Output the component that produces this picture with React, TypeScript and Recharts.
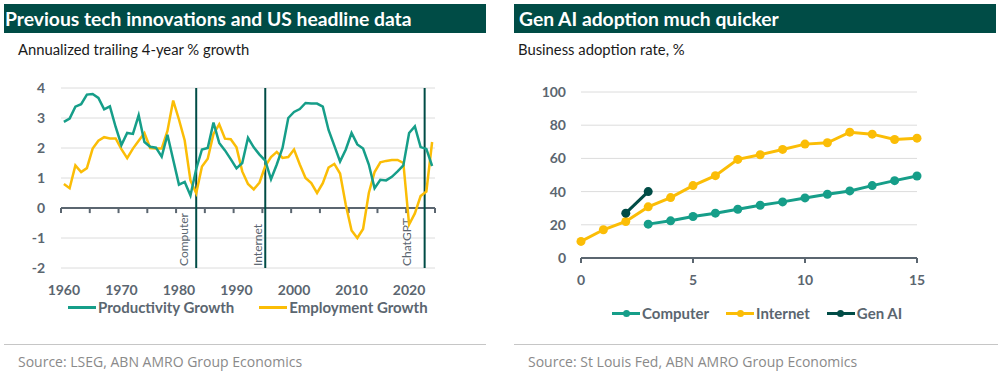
import {
  LineChart,
  Line,
  XAxis,
  YAxis,
  CartesianGrid,
  ReferenceLine,
} from "recharts";

// LEFT: annualized trailing 4-year % growth, 1960-2024
const years = Array.from({ length: 65 }, (_, i) => 1960 + i);

const productivity = [
  2.87, 2.98, 3.38, 3.46, 3.78, 3.8, 3.67, 3.29, 3.39, 2.7,
  2.1, 2.5, 2.47, 3.09, 2.2, 2.04, 2.01, 1.71, 2.44, 1.61,
  0.78, 0.87, 0.42, 1.3, 1.95, 2.0, 2.85, 2.17, 1.92, 1.63,
  1.32, 1.5, 2.34, 2.02, 1.78, 1.58, 0.96, 1.45, 2.0, 3.0,
  3.2, 3.3, 3.5, 3.48, 3.48, 3.38, 2.6, 2.08, 1.55, 1.95,
  2.5, 2.12, 1.98, 1.45, 0.66, 0.94, 0.92, 1.04, 1.22, 1.42,
  2.5, 2.72, 2.03, 1.97, 1.4,
];

const employment = [
  0.8, 0.66, 1.42, 1.2, 1.33, 1.98, 2.24, 2.36, 2.32, 2.32,
  1.96, 1.66, 1.98, 2.24, 2.5, 2.0, 1.98, 1.98, 2.57, 3.58,
  2.95, 2.25, 0.92, 0.49, 1.38, 1.64, 2.47, 2.79, 2.31, 2.29,
  2.02, 1.22, 0.8, 0.62, 0.85, 1.4, 1.7, 1.87, 1.67, 1.7,
  1.95, 1.45, 1.0, 0.83, 0.5, 0.83, 1.35, 1.47, 1.15, 0.1,
  -0.75, -1.0, -0.7, 0.5, 1.2, 1.52, 1.57, 1.6, 1.6, 1.5,
  -0.55, -0.18, 0.4, 0.55, 2.2,
];

const yearLabels = [1960, 1970, 1980, 1990, 2000, 2010, 2020];
const yearBoundaries = [
  1959.5, 1964.5, 1969.5, 1974.5, 1979.5, 1984.5, 1989.5,
  1994.5, 1999.5, 2004.5, 2009.5, 2014.5, 2019.5, 2024.5,
];
const growthTicks = [-2, -1, 0, 1, 2, 3, 4];

const eventNames = ["Computer", "Internet", "ChatGPT"];
const eventYears = [1983, 1995, 2022.7];

// RIGHT: business adoption rate, %
const adoptionYears = [0, 1, 2, 3, 4, 5, 6, 7, 8, 9, 10, 11, 12, 13, 14, 15];
const computer = [null, null, null, 20.4, 22.4, 25, 27, 29.4, 31.8, 33.8, 36.2, 38.4, 40.4, 43.6, 46.6, 49.4];
const internet = [10, 17, 22, 30.8, 36.4, 43.6, 49.6, 59.4, 62.2, 65.4, 68.6, 69.4, 75.8, 74.6, 71.4, 72.2];
const genAI = [null, null, 27, 40, null, null, null, null, null, null, null, null, null, null, null, null];
const adoptionXTicks = [0, 5, 10, 15];
const adoptionYTicks = [0, 20, 40, 60, 80, 100];

const GREEN = "#169e89";
const YELLOW = "#fbbd06";
const DARK = "#004c46";
const AXIS = "#5b6670";
const GRID = "#dcdcdc";
const FONT = "Lato, 'Open Sans', sans-serif";

const growthData = years.map((year, i) => ({
  year,
  productivity: productivity[i],
  employment: employment[i],
}));

const adoptionData = adoptionYears.map((x, i) => ({
  x,
  computer: computer[i],
  internet: internet[i],
  genAI: genAI[i],
}));

// label offsets (px) from each event line, left side
const labelDx: Record<string, number> = { Computer: -8.5, Internet: -3.5, ChatGPT: -13.5 };

function EventLabel(props: any) {
  const { viewBox, text } = props;
  const x = viewBox.x + (labelDx[text] || -6);
  const y = viewBox.y + viewBox.height - 2;
  return (
    <text
      x={x}
      y={y}
      transform={`rotate(-90 ${x} ${y})`}
      fill={AXIS}
      fontSize={12}
      fontFamily={FONT}
      textAnchor="start"
    >
      {text}
    </text>
  );
}

const tickStyle = { fill: AXIS, fontSize: 14, fontWeight: 700, fontFamily: FONT };

function Header({ left, width, pad, text }: any) {
  return (
    <div
      style={{
        position: "absolute",
        left,
        top: 4,
        width,
        height: 29,
        lineHeight: "29px",
        background: DARK,
        color: "#fff",
        fontFamily: FONT,
        fontWeight: 700,
        fontSize: 19.3,
        paddingLeft: pad,
        boxSizing: "border-box",
        whiteSpace: "nowrap",
      }}
    >
      {text}
    </div>
  );
}

function LegendItem({ color, label, dot }: any) {
  return (
    <div style={{ display: "flex", alignItems: "center" }}>
      <div style={{ position: "relative", width: 28, height: 3, background: color, marginRight: 2 }}>
        {dot && (
          <div
            style={{
              position: "absolute",
              left: 10.5,
              top: -2,
              width: 7,
              height: 7,
              borderRadius: "50%",
              background: color,
            }}
          />
        )}
      </div>
      <span style={{ color: AXIS, fontWeight: 700, fontSize: 15, lineHeight: "15px", fontFamily: FONT }}>
        {label}
      </span>
    </div>
  );
}

const textBase = { position: "absolute" as const, whiteSpace: "nowrap" as const };
const subStyle = { fontFamily: FONT, fontSize: 14.8, lineHeight: "14.8px", color: "#1a1a1a" };
const sourceStyle = { fontFamily: "'Open Sans', sans-serif", fontSize: 14, lineHeight: "14px", color: "#8a8a8a" };

export default function App() {
  return (
    <div
      style={{
        position: "absolute",
        left: 0,
        top: 0,
        width: 998,
        height: 375,
        background: "#fff",
        overflow: "hidden",
      }}
    >
      {/* LEFT PANEL */}
      <Header left={4} width={482} pad={1} text="Previous tech innovations and US headline data" />
      <div style={{ ...textBase, ...subStyle, left: 18, top: 42 }}>
        Annualized trailing 4-year % growth
      </div>

      <div style={{ position: "absolute", left: 0, top: 0 }}>
        <LineChart
          width={490}
          height={300}
          data={growthData}
          margin={{ top: 88, right: 55, bottom: 2, left: 0 }}
        >
          <CartesianGrid vertical={false} stroke={GRID} />
          <XAxis
            dataKey="year"
            type="number"
            domain={[1959.5, 2024.5]}
            ticks={yearLabels}
            tick={tickStyle}
            tickLine={false}
            axisLine={false}
            tickSize={6}
            tickMargin={11}
            height={30}
            interval={0}
          />
          <YAxis
            domain={[-2, 4]}
            ticks={growthTicks}
            tick={tickStyle}
            tickLine={false}
            axisLine={false}
            tickSize={6}
            tickMargin={10}
            width={61}
          />
          <ReferenceLine y={0} stroke={AXIS} strokeWidth={2} />
          {yearBoundaries.map((t) => (
            <ReferenceLine
              key={t}
              segment={[
                { x: t, y: 0 },
                { x: t, y: -0.17 },
              ]}
              stroke={AXIS}
              strokeWidth={2}
            />
          ))}
          {eventYears.map((yr, i) => (
            <ReferenceLine
              key={eventNames[i]}
              x={yr}
              stroke={DARK}
              strokeWidth={2}
              label={<EventLabel text={eventNames[i]} />}
            />
          ))}
          <Line
            type="linear"
            dataKey="employment"
            stroke={YELLOW}
            strokeWidth={2.5}
            dot={false}
            isAnimationActive={false}
          />
          <Line
            type="linear"
            dataKey="productivity"
            stroke={GREEN}
            strokeWidth={2.5}
            dot={false}
            isAnimationActive={false}
          />
        </LineChart>
      </div>

      <div style={{ position: "absolute", left: 68, top: 300, display: "flex", gap: 25 }}>
        <LegendItem color={GREEN} label="Productivity Growth" />
        <LegendItem color={YELLOW} label="Employment Growth" />
      </div>

      <div style={{ position: "absolute", left: 4, top: 344, width: 482, height: 1, background: "#c6c6c6" }} />
      <div style={{ ...textBase, ...sourceStyle, left: 18, top: 355 }}>
        Source: LSEG, ABN AMRO Group Economics
      </div>

      {/* RIGHT PANEL */}
      <Header left={514} width={482} pad={5} text="Gen AI adoption much quicker" />
      <div style={{ ...textBase, ...subStyle, left: 518, top: 42 }}>
        Business adoption rate, %
      </div>

      <div style={{ position: "absolute", left: 500, top: 0 }}>
        <LineChart
          width={498}
          height={300}
          data={adoptionData}
          margin={{ top: 92, right: 81, bottom: 12, left: 0 }}
        >
          <CartesianGrid vertical={false} stroke={GRID} />
          <XAxis
            dataKey="x"
            type="number"
            domain={[0, 15]}
            ticks={adoptionXTicks}
            tick={tickStyle}
            axisLine={{ stroke: AXIS, strokeWidth: 2 }}
            tickLine={{ stroke: AXIS, strokeWidth: 2 }}
            tickSize={5}
            tickMargin={12}
            height={30}
            interval={0}
          />
          <YAxis
            domain={[0, 100]}
            ticks={adoptionYTicks}
            tick={tickStyle}
            tickLine={false}
            axisLine={false}
            tickSize={6}
            tickMargin={9}
            width={81}
          />
          <Line
            type="linear"
            dataKey="computer"
            stroke={GREEN}
            strokeWidth={3}
            dot={{ r: 4.5, fill: GREEN, stroke: GREEN, strokeWidth: 0 }}
            isAnimationActive={false}
          />
          <Line
            type="linear"
            dataKey="internet"
            stroke={YELLOW}
            strokeWidth={3}
            dot={{ r: 4.5, fill: YELLOW, stroke: YELLOW, strokeWidth: 0 }}
            isAnimationActive={false}
          />
          <Line
            type="linear"
            dataKey="genAI"
            stroke={DARK}
            strokeWidth={3}
            dot={{ r: 4.5, fill: DARK, stroke: DARK, strokeWidth: 0 }}
            isAnimationActive={false}
          />
        </LineChart>
      </div>

      <div style={{ position: "absolute", left: 612, top: 305.8, display: "flex", gap: 17 }}>
        <LegendItem color={GREEN} label="Computer" dot />
        <LegendItem color={YELLOW} label="Internet" dot />
        <LegendItem color={DARK} label="Gen AI" dot />
      </div>

      <div style={{ position: "absolute", left: 514, top: 344, width: 484, height: 1, background: "#c6c6c6" }} />
      <div style={{ ...textBase, ...sourceStyle, left: 528, top: 355 }}>
        Source: St Louis Fed, ABN AMRO Group Economics
      </div>
    </div>
  );
}
